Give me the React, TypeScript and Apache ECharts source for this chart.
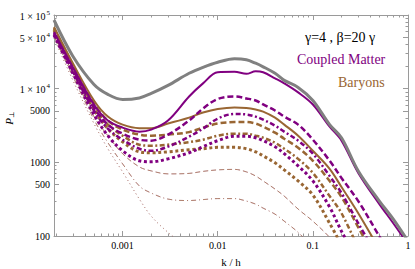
import React, { useEffect, useRef } from "react";
import * as echarts from "echarts";

// wavenumber grid k/h
const kValues = [0.00019, 0.0003, 0.0005, 0.0007, 0.001, 0.0015, 0.002, 0.003, 0.005, 0.007, 0.01, 0.015, 0.02, 0.025, 0.03, 0.04, 0.05, 0.07, 0.1, 0.15, 0.2, 0.3, 0.5, 0.7, 1];

// thick curves
const grayTotal = [85500, 27600, 11400, 8360, 7130, 7480, 8620, 11070, 16170, 19500, 22850, 25490, 24700, 22140, 19810, 16170, 12970, 10400, 6910, 3250, 2160, 765, 298, 169, 85];
const purpleSolid = [58700, 19500, 6100, 3690, 2960, 2610, 2780, 3690, 7830, 11800, 16700, 16950, 15900, 17200, 16700, 13800, 11800, 8900, 6100, 3050, 1970, 719, 271, 149, 77];
const purpleDashed = [56900, 18300, 5550, 3250, 2450, 2030, 1970, 2380, 3690, 5370, 7250, 7830, 7360, 6910, 6100, 5050, 4180, 3250, 2030, 1050, 614, 298, 99, 48];
const purpleDashDot = [55100, 17200, 5050, 2870, 2030, 1530, 1435, 1630, 2230, 2870, 3920, 4530, 4460, 4180, 3800, 3150, 2610, 1970, 1310, 653, 383, 149, 48];
const purpleDotted = [53300, 16200, 4460, 2300, 1435, 1050, 1016, 1115, 1350, 1630, 1970, 2260, 2260, 2160, 1970, 1630, 1310, 895, 559, 247, 116, 45];
const brownSolid = [68600, 22100, 6910, 4180, 3250, 2910, 2910, 3360, 4050, 4740, 5290, 5550, 5460, 5210, 4890, 4050, 3250, 2300, 1435, 815, 462, 204, 66];
const brownDashed = [66500, 20800, 6300, 3690, 2780, 2380, 2300, 2380, 2570, 2960, 3360, 3520, 3520, 3360, 3050, 2530, 2090, 1580, 1050, 559, 338, 131, 39];
const brownDashDot = [64400, 19500, 5720, 3250, 2300, 1735, 1680, 1735, 1880, 2030, 2300, 2450, 2450, 2300, 2160, 1850, 1530, 1115, 719, 348, 204, 68];
const brownDotted = [62500, 18300, 5210, 2870, 1900, 1390, 1350, 1390, 1480, 1530, 1600, 1600, 1530, 1390, 1225, 984, 790, 559, 360, 149, 75];

// thin curves (coupled matter and baryons nearly coincide)
const thinDashed = [53300, 16200, 4180, 2300, 1310, 867, 765, 697, 708, 754, 790, 802, 742, 653, 559, 434, 348, 232, 159, 96, 62];
const thinDashDot = [51700, 14700, 3800, 1850, 954, 477, 383, 317, 303, 312, 322, 322, 298, 271, 239, 198, 159, 112, 70];
const thinDotted = [48500, 13000, 3360, 1530, 742, 317, 186, 112, 66];

// ticks
const xMin = 0.00019;
const xMax = 1;
const yMin = 100;
const yMax = 100000;
const xMajorTicks = [0.001, 0.01, 0.1, 1];
const xMinorMultipliers = [2, 3, 4, 5, 6, 7, 8, 9];
const xDecades = [0.0001, 0.001, 0.01, 0.1];
const yMajorTicks = [100, 500, 1000, 5000, 10000, 50000, 100000];
const yMinorMultipliers = [2, 3, 4, 6, 7, 8, 9];
const yDecades = [100, 1000, 10000];

const xMinorTicks: number[] = [];
xDecades.forEach((d) => xMinorMultipliers.forEach((m) => { const v = +(d * m).toPrecision(6); if (v >= xMin && v <= xMax) xMinorTicks.push(v); }));
const yMinorTicks: number[] = [];
yDecades.forEach((d) => yMinorMultipliers.forEach((m) => yMinorTicks.push(d * m)));

const FONT = "Liberation Serif, DejaVu Serif, serif";
const PURPLE = "#800080";
const BROWN = "#996633";
const GRAY = "#808080";
const FRAME = "#9a9a9a";

function line(name: string, vals: number[], color: string, width: number, type: any, z: number, opacity = 1) {
  return {
    name,
    type: "line",
    xAxisIndex: 0,
    yAxisIndex: 0,
    data: vals.map((v, i) => [kValues[i], v]),
    showSymbol: false,
    symbol: "none",
    smooth: 0.35,
    clip: true,
    silent: true,
    z,
    lineStyle: { color, width, type, cap: "butt", opacity },
  };
}

function xAxisDef(position: string, ticks: number[], len: number, showLine: boolean, labels: boolean) {
  return {
    type: "log",
    logBase: 10,
    min: xMin,
    max: xMax,
    position,
    gridIndex: 0,
    splitLine: { show: false },
    minorTick: { show: false },
    axisLine: { show: showLine, onZero: false, lineStyle: { color: FRAME, width: 1 } },
    axisTick: { show: true, inside: true, length: len, customValues: ticks, lineStyle: { color: FRAME, width: 1 } },
    axisLabel: labels
      ? { show: true, customValues: xMajorTicks, formatter: (v: number) => String(v), margin: 4, color: "#000", fontSize: 10, fontFamily: FONT }
      : { show: false },
  };
}

function yAxisDef(position: string, ticks: number[], len: number, showLine: boolean, labels: boolean) {
  return {
    type: "log",
    logBase: 10,
    min: yMin,
    max: yMax,
    position,
    gridIndex: 0,
    splitLine: { show: false },
    minorTick: { show: false },
    axisLine: { show: showLine, onZero: false, lineStyle: { color: FRAME, width: 1 } },
    axisTick: { show: true, inside: true, length: len, customValues: ticks, lineStyle: { color: FRAME, width: 1 } },
    axisLabel: labels
      ? {
          show: true,
          customValues: yMajorTicks,
          margin: 4,
          formatter: (v: number) => {
            if (v >= 10000) {
              const e = Math.floor(Math.log10(v) + 1e-9);
              const m = Math.round(v / Math.pow(10, e));
              return `{n|${m} × 10}{s|${e}}`;
            }
            return `{n|${v}}`;
          },
          rich: {
            n: { fontSize: 10, fontFamily: FONT, color: "#000", verticalAlign: "bottom" },
            s: { fontSize: 7, fontFamily: FONT, color: "#000", verticalAlign: "top", padding: [0, 0, 5, 1] },
          },
        }
      : { show: false },
  };
}

export default function App() {
  const ref = useRef<HTMLDivElement>(null);
  useEffect(() => {
    document.body.style.margin = "0";
    const chart = echarts.init(ref.current!, null, { renderer: "svg" });
    const xAxes: any[] = [
      {
        ...xAxisDef("bottom", xMajorTicks, 5, true, true),
        name: "k / h",
        nameLocation: "middle",
        nameGap: 20,
        nameTextStyle: { fontSize: 11, fontFamily: FONT, color: "#000" },
      },
      xAxisDef("bottom", xMinorTicks, 2.5, false, false),
      xAxisDef("top", xMajorTicks, 5, true, false),
      xAxisDef("top", xMinorTicks, 2.5, false, false),
    ];
    const yAxes: any[] = [
      yAxisDef("left", yMajorTicks, 5, true, true),
      yAxisDef("left", yMinorTicks, 2.5, false, false),
      yAxisDef("right", yMajorTicks, 5, true, false),
      yAxisDef("right", yMinorTicks, 2.5, false, false),
    ];
    const option: any = {
      animation: false,
      backgroundColor: "#ffffff",
      grid: { left: 54, right: 7, top: 15, bottom: 33, containLabel: false, outerBoundsMode: "none" },
      xAxis: xAxes,
      yAxis: yAxes,
      series: [
        line("Thin dotted (CM)", thinDotted, PURPLE, 1, [1, 3], 1, 0.3),
        line("Thin dotted (B)", thinDotted, BROWN, 1, [1, 3], 2, 0.65),
        line("Thin dash-dot (CM)", thinDashDot, PURPLE, 1, [5, 3, 1, 3], 1, 0.3),
        line("Thin dash-dot (B)", thinDashDot, BROWN, 1, [5, 3, 1, 3], 2, 0.65),
        line("Thin dashed (CM)", thinDashed, PURPLE, 1, [5, 3], 1, 0.3),
        line("Thin dashed (B)", thinDashed, BROWN, 1, [5, 3], 2, 0.65),
        line("Baryons dotted", brownDotted, BROWN, 3, [3, 2.7], 3),
        line("Baryons dash-dot", brownDashDot, BROWN, 2.5, [5, 2.5, 2, 2.5], 3),
        line("Baryons dashed", brownDashed, BROWN, 2.5, [6, 3], 3),
        line("Baryons", brownSolid, BROWN, 2, "solid", 3),
        line("CM dotted", purpleDotted, PURPLE, 3, [3, 2.7], 4),
        line("CM dash-dot", purpleDashDot, PURPLE, 2.5, [5, 2.5, 2, 2.5], 4),
        line("CM dashed", purpleDashed, PURPLE, 2.5, [6, 3], 4),
        line("Coupled Matter", purpleSolid, PURPLE, 2, "solid", 4),
        line("Total", grayTotal, GRAY, 3, "solid", 5),
      ],
      graphic: [
        {
          type: "text",
          x: 9,
          y: 118,
          rotation: Math.PI / 2,
          style: {
            text: "{p|P}{q|⊥}",
            align: "center",
            verticalAlign: "middle",
            rich: {
              p: { fontSize: 11, fontStyle: "italic", fontFamily: FONT, fill: "#000" },
              q: { fontSize: 7, fontFamily: FONT, fill: "#000", verticalAlign: "bottom", padding: [5, 0, 0, 0] },
            },
          },
        },
        { type: "text", x: 305, y: 37, style: { text: "γ=4 , β=20 γ", fontSize: 14, fontFamily: FONT, fill: "#000", verticalAlign: "middle", align: "left" } },
        { type: "text", x: 297, y: 59, style: { text: "Coupled Matter", fontSize: 14, fontFamily: FONT, fill: PURPLE, verticalAlign: "middle", align: "left" } },
        { type: "text", x: 338, y: 82, style: { text: "Baryons", fontSize: 14, fontFamily: FONT, fill: BROWN, verticalAlign: "middle", align: "left" } },
      ],
    };
    chart.setOption(option);
    return () => chart.dispose();
  }, []);
  return <div ref={ref} style={{ width: 415, height: 269 }} />;
}
